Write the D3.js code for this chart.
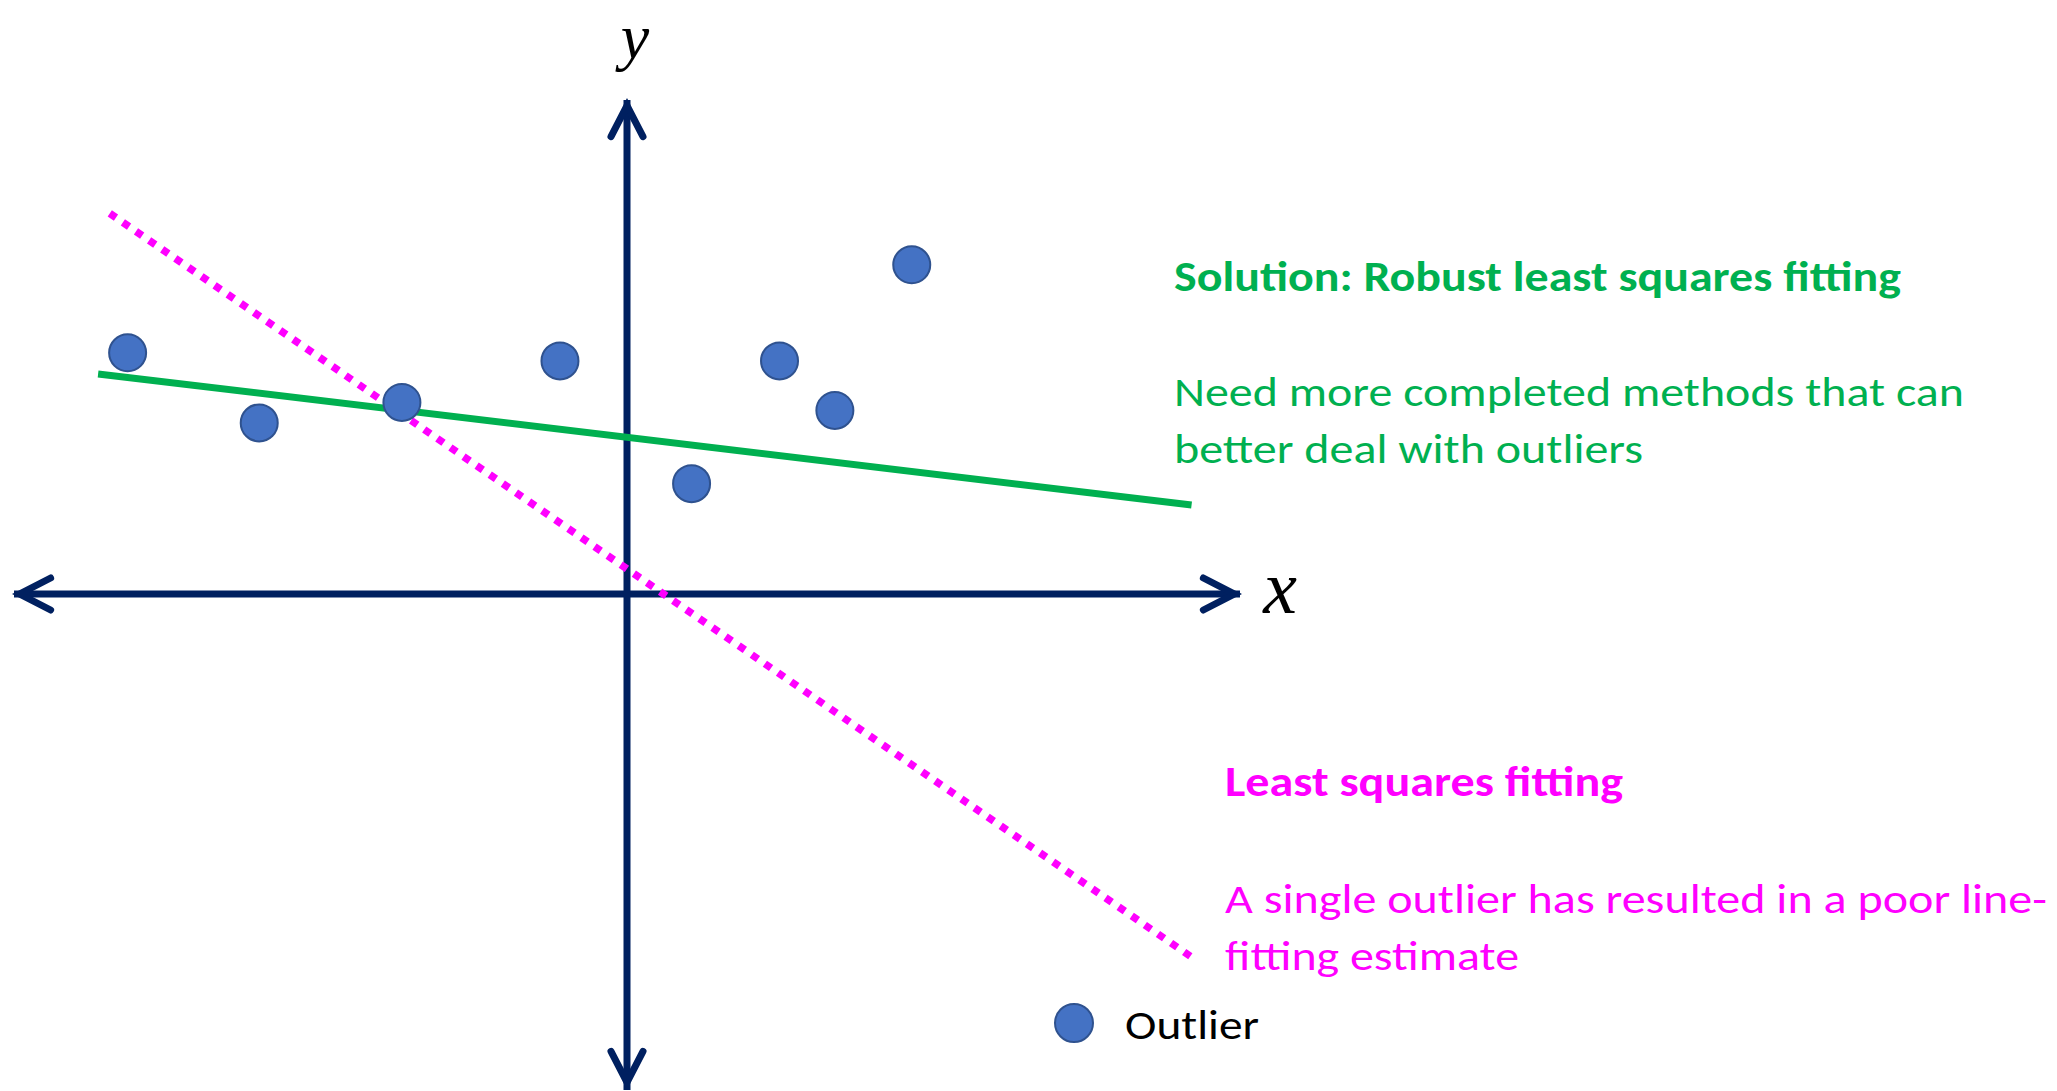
<!DOCTYPE html>
<html>
<head>
<meta charset="utf-8">
<script src="https://cdn.jsdelivr.net/npm/d3@7"></script>
<style>
  html, body { margin: 0; padding: 0; background: #ffffff; overflow: hidden; }
  svg { display: block; }
</style>
</head>
<body>
<svg id="chart" width="2057" height="1091"></svg>
<script>
// ---------------- data ----------------
const xDomain = [-10, 10];
const yDomain = [-8, 8];
const pointX = [-8.12, -5.98, -3.66, -1.09, 1.05, 2.48, 3.38, 4.63];
const pointY = [3.89, 2.76, 3.09, 3.76, 1.78, 3.76, 2.96, 5.31];
const robustFitX = [-8.60, 9.18];
const robustFitY = [3.55, 1.435];
const leastSqFitX = [-8.41, 9.20];
const leastSqFitY = [6.14, -5.87];
const axisLabels = ["x", "y"];
const legendLabels = ["Outlier"];
const robustTexts = ["Solution: Robust least squares fitting", "Need more completed methods that can", "better deal with outliers"];
const leastSqTexts = ["Least squares fitting", "A single outlier has resulted in a poor line-", "fitting estimate"];

// ---------------- layout / style ----------------
const W = 2057, H = 1091;
const NAVY = "#002060", GREEN = "#00B050", MAGENTA = "#FF00FF";
const PT_FILL = "#4472C4", PT_STROKE = "#2F528F";
const FONT = "Carlito, Calibri, Lato, 'Open Sans', sans-serif";
const FS = 42;

const svg = d3.select("#chart");
const x = d3.scaleLinear().domain(xDomain).range([12, 1242]);
const y = d3.scaleLinear().domain(yDomain).range([1090, 98]);

// ---------------- axes with arrowheads ----------------
const axisW = 7;
const headBack = 31, headHalf = 16;
const ext = (axisW / 2) / Math.sin(Math.atan(headHalf / headBack)); // miter overshoot
const gAxis = svg.append("g").attr("stroke", NAVY).attr("fill", "none")
  .attr("stroke-width", axisW);

// x axis
gAxis.append("line")
  .attr("x1", x(xDomain[0]) + 2).attr("x2", x(xDomain[1]) - 2)
  .attr("y1", y(0)).attr("y2", y(0));
// y axis
gAxis.append("line")
  .attr("x1", x(0)).attr("x2", x(0))
  .attr("y1", y(yDomain[1]) + 2).attr("y2", y(yDomain[0]));

function chevron(tx, ty, dx, dy) {
  // tip at (tx,ty) pointing in direction (dx,dy)
  const px = tx - dx * ext, py = ty - dy * ext;
  const bx = px - dx * headBack, by = py - dy * headBack;
  const nx = -dy, ny = dx;
  return `M${bx + nx * headHalf},${by + ny * headHalf}L${px},${py}L${bx - nx * headHalf},${by - ny * headHalf}`;
}
const heads = [
  [x(xDomain[0]), y(0), -1, 0],
  [x(xDomain[1]), y(0), 1, 0],
  [x(0), y(yDomain[1]), 0, -1],
  [x(0), y(yDomain[0]), 0, 1]
];
gAxis.selectAll("path.head").data(heads).join("path")
  .attr("class", "head")
  .attr("d", d => chevron(d[0], d[1], d[2], d[3]))
  .attr("stroke-linejoin", "miter")
  .attr("stroke-miterlimit", 10)
  .attr("stroke-linecap", "round");

// axis labels
svg.append("text")
  .attr("x", x(xDomain[1]) + 38).attr("y", y(0) + 19)
  .attr("font-family", "'Liberation Serif', 'DejaVu Serif', serif")
  .attr("font-style", "italic").attr("font-size", 76).attr("fill", "#000")
  .attr("text-anchor", "middle")
  .text(axisLabels[0]);
svg.append("text")
  .attr("x", x(0) + 8).attr("y", 58)
  .attr("font-family", "'Liberation Serif', 'DejaVu Serif', serif")
  .attr("font-style", "italic").attr("font-size", 64).attr("fill", "#000")
  .attr("text-anchor", "middle")
  .text(axisLabels[1]);

// ---------------- fit lines ----------------
const line = d3.line().x(d => x(d[0])).y(d => y(d[1]));
svg.append("path")
  .datum(d3.zip(robustFitX, robustFitY))
  .attr("d", line)
  .attr("fill", "none").attr("stroke", GREEN).attr("stroke-width", 7);

svg.append("path")
  .datum(d3.zip(leastSqFitX, leastSqFitY))
  .attr("d", line)
  .attr("fill", "none").attr("stroke", MAGENTA).attr("stroke-width", 7.5)
  .attr("stroke-dasharray", "7.5 8.4");

// ---------------- points ----------------
svg.append("g").selectAll("circle").data(d3.zip(pointX, pointY)).join("circle")
  .attr("cx", d => x(d[0])).attr("cy", d => y(d[1])).attr("r", 18.5)
  .attr("fill", PT_FILL).attr("stroke", PT_STROKE).attr("stroke-width", 2);

// ---------------- annotation texts ----------------
function fitText(sel, target) {
  const node = sel.node();
  const w = node.getComputedTextLength();
  if (Math.abs(w - target) > 2) {
    sel.attr("textLength", target).attr("lengthAdjust", "spacingAndGlyphs");
  }
}
const robustLayout = [
  { x: 1174, y: 291, bold: true, w: 727 },
  { x: 1174, y: 406, bold: false, w: 790 },
  { x: 1174, y: 463, bold: false, w: 469 }
];
const lsLayout = [
  { x: 1225, y: 796, bold: true, w: 398 },
  { x: 1225, y: 913, bold: false, w: 822 },
  { x: 1225, y: 970, bold: false, w: 294 }
];
function drawBlock(texts, layout, color) {
  texts.forEach((t, i) => {
    const L = layout[i];
    const s = svg.append("text")
      .attr("x", L.x).attr("y", L.y)
      .attr("font-family", FONT).attr("font-size", FS)
      .attr("font-weight", L.bold ? "bold" : "normal")
      .attr("fill", color)
      .text(t);
    fitText(s, L.w);
  });
}
drawBlock(robustTexts, robustLayout, GREEN);
drawBlock(leastSqTexts, lsLayout, MAGENTA);

// ---------------- legend ----------------
svg.append("circle").attr("cx", 1074).attr("cy", 1023).attr("r", 19)
  .attr("fill", PT_FILL).attr("stroke", PT_STROKE).attr("stroke-width", 2);
const leg = svg.append("text").attr("x", 1125).attr("y", 1039)
  .attr("font-family", FONT).attr("font-size", FS).attr("fill", "#000")
  .text(legendLabels[0]);
fitText(leg, 134);
</script>
</body>
</html>
